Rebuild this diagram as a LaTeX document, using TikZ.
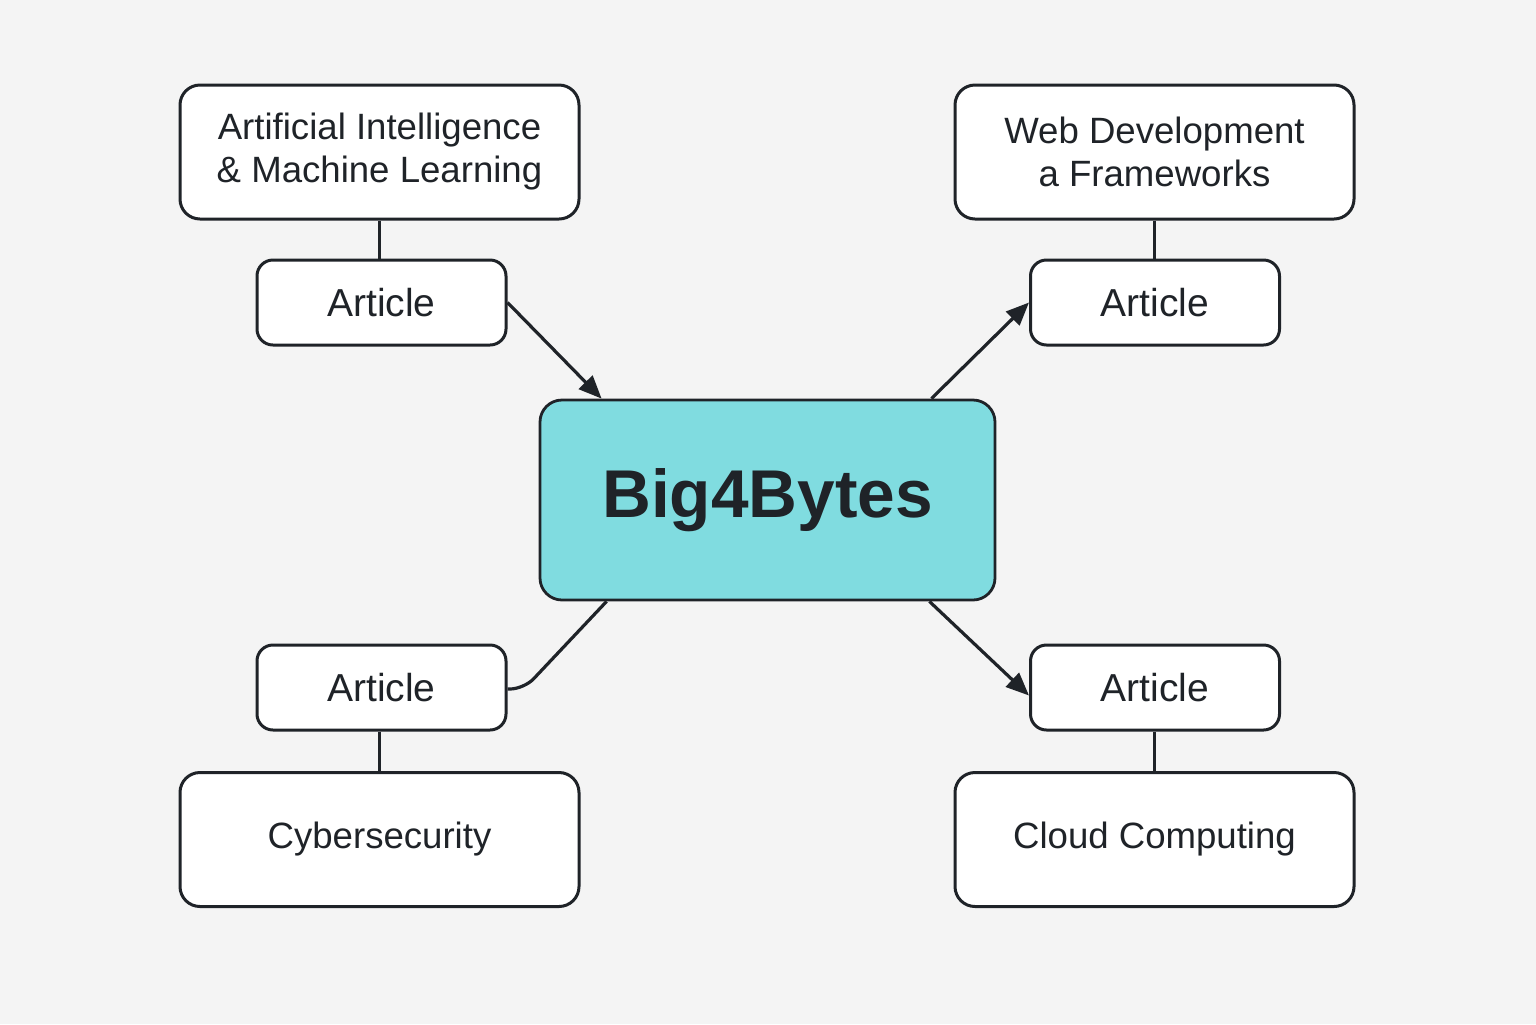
\documentclass[tikz,border=0pt]{standalone}
\usepackage{fontspec}
\setmainfont{Liberation Sans}
\usetikzlibrary{arrows.meta,positioning}
\definecolor{bgc}{HTML}{F4F4F4}
\definecolor{inkc}{HTML}{1F2328}
\definecolor{hubc}{HTML}{80DCE0}
\tikzset{
  topicbox/.style={draw=inkc, line width=1.5pt, fill=white, rounded corners=10pt,
    minimum width=199.5pt, minimum height=67pt, inner sep=0pt, align=center,
    font=\fontsize{18.3}{21.5}\selectfont, text=inkc},
  articlebox/.style={draw=inkc, line width=1.5pt, fill=white, rounded corners=8pt,
    minimum width=124.5pt, minimum height=42.5pt, inner sep=0pt,
    font=\fontsize{19.5}{22}\selectfont, text=inkc},
  hubbox/.style={draw=inkc, line width=1.4pt, fill=hubc, rounded corners=11pt,
    minimum width=227.5pt, minimum height=100pt, inner sep=0pt,
    font=\fontsize{33.8}{40}\selectfont\bfseries, text=inkc},
  link/.style={draw=inkc, line width=1.6pt},
  arrowlink/.style={link, -{Triangle[length=11.5pt,width=9.5pt]}}
}
\begin{document}
\begin{tikzpicture}[x=0.5pt,y=-0.5pt]
\fill[bgc] (0,0) rectangle (1536,1024);
\useasboundingbox (0,0) rectangle (1536,1024);

\node[hubbox] (hub) at (767.5,500) {Big4Bytes};

\node[topicbox] (ai) at (379.5,152) {Artificial Intelligence\\\& Machine Learning};
\node[topicbox] (web) at (1154.5,152) {Web Development\\a Frameworks};
\node[topicbox] (cyber) at (379.5,839.5) {Cybersecurity};
\node[topicbox] (cloud) at (1154.5,839.5) {Cloud Computing};

\node[articlebox] (atl) at (381.5,302.5) {Article};
\node[articlebox] (atr) at (1155,302.5) {Article};
\node[articlebox] (abl) at (381.5,687.5) {Article};
\node[articlebox] (abr) at (1155,687.5) {Article};

\draw[link] (ai.south) -- (ai.south |- atl.north);
\draw[link] (web.south) -- (web.south |- atr.north);
\draw[link] (abl.south -| cyber.north) -- (cyber.north);
\draw[link] (abr.south -| cloud.north) -- (cloud.north);

\draw[arrowlink] (atl.east) -- ([xshift=31.5pt]hub.north west);
\draw[arrowlink] ([xshift=-32.5pt]hub.north east) -- (atr.west);
\draw[arrowlink] ([xshift=-33.5pt]hub.south east) -- ([yshift=-4pt]abr.west);
\coordinate (blbend) at (524,689);
\draw[link, rounded corners=7pt] ([xshift=34pt]hub.south west) -- (blbend) -- ([yshift=-0.75pt]abl.east);
\end{tikzpicture}
\end{document}
